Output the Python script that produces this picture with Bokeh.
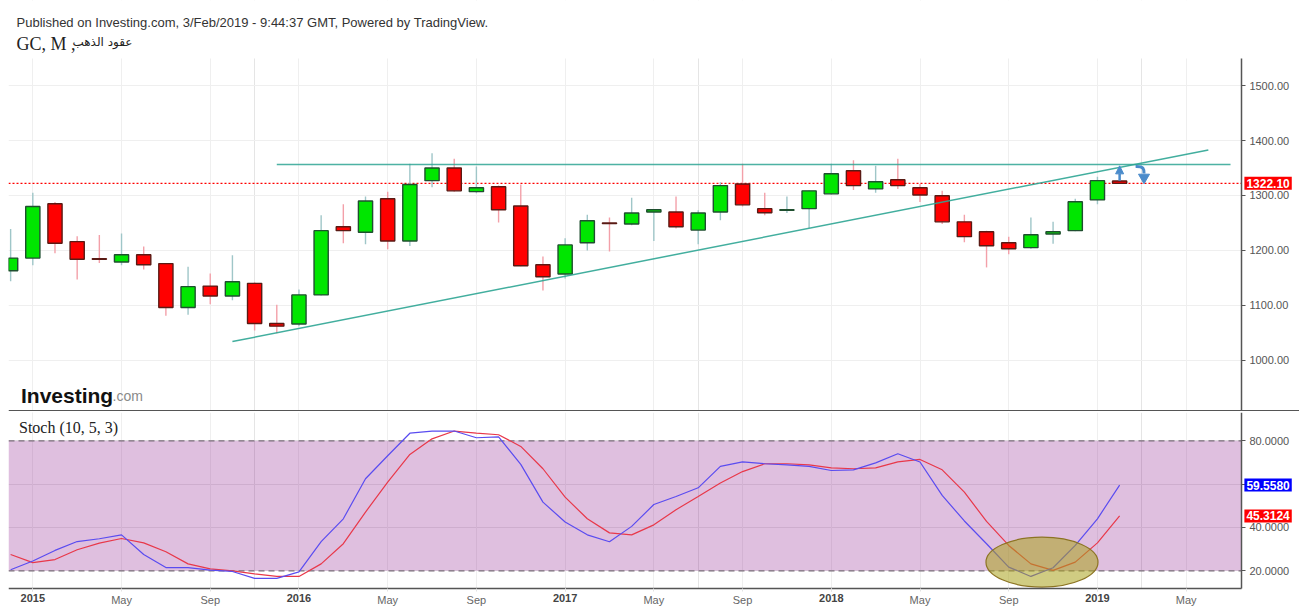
import numpy as np
import pandas as pd
from bokeh.plotting import figure
from bokeh.layouts import column
from bokeh.models import (ColumnDataSource, FixedTicker, Grid, Span, Label, LinearAxis,
                          Range1d, NumeralTickFormatter, Arrow, NormalHead, BoxAnnotation)
from bokeh.embed import file_html
from bokeh.resources import INLINE

# ---------------- data ----------------
months = [str(p) for p in pd.period_range("2014-12", "2019-02", freq="M")]

open_ = [1163, 1186, 1285, 1216, 1185, 1179, 1192, 1176, 1096, 1135, 1117, 1140, 1067, 1066,
         1119, 1243, 1233, 1294, 1217, 1327, 1350, 1307, 1316, 1281, 1174, 1157, 1214, 1250,
         1248, 1270, 1270, 1237, 1270, 1321, 1276, 1273, 1276, 1303, 1345, 1312, 1328.6, 1314,
         1299.5, 1252, 1234, 1214, 1205, 1230, 1236, 1292, 1326.5]
high = [1239, 1305, 1288, 1226, 1228, 1231, 1207, 1177, 1170, 1158, 1191, 1142, 1101, 1129,
        1264, 1284, 1298, 1307, 1358, 1377, 1367, 1353, 1318, 1320, 1189, 1222, 1265, 1260,
        1296, 1275, 1298, 1273, 1324, 1358, 1305, 1298, 1309, 1358, 1364, 1354, 1367, 1321,
        1308.5, 1265, 1236, 1225, 1260, 1252, 1294, 1334, 1327]
low = [1144, 1173, 1195, 1147, 1177, 1173, 1165, 1081, 1083, 1102, 1109, 1054, 1049, 1062,
       1118, 1213, 1211, 1202, 1208, 1315, 1307, 1304, 1251, 1171, 1127, 1149, 1200, 1198,
       1246, 1217, 1240, 1211, 1255, 1280, 1264, 1268, 1241, 1302, 1310, 1305, 1312, 1288,
       1248, 1215, 1169, 1193, 1203, 1212, 1235, 1284, 1321]
close = [1186, 1280, 1213, 1184, 1184, 1192, 1174, 1096, 1134, 1117, 1143, 1067, 1062, 1119,
         1236, 1236, 1290, 1217, 1320, 1350, 1308.5, 1314, 1274, 1172, 1152, 1210, 1254, 1249,
         1268, 1274, 1243, 1268, 1318, 1283, 1268.5, 1274, 1308.5, 1339.5, 1318, 1325, 1318,
         1301, 1252, 1225, 1208.5, 1203, 1228.5, 1234, 1288.5, 1327, 1322.1]

stoch_k = [20.5, 24.5, 29.4, 33.5, 34.8, 36.6, 27.5, 21.5, 21.5, 20.3, 19.7, 16.5, 16.5, 19.5,
           33.5, 44.0, 62.5, 73.1, 83.5, 84.5, 84.5, 81.4, 81.8, 69.1, 51.7, 42.5, 36.6, 33.4,
           40.5, 50.6, 54.3, 58.3, 68.2, 70.3, 69.4, 68.9, 68.2, 66.3, 66.6, 69.8, 74.0, 70.2,
           54.8, 43.0, 32.5, 21.7, 17.4, 21.4, 31.7, 44.0, 59.558]
stoch_d = [27.5, 23.8, 25.2, 29.7, 32.8, 34.9, 32.9, 28.8, 23.2, 20.9, 20.0, 18.6, 17.4, 17.4,
           23.2, 32.5, 47.1, 60.9, 73.7, 80.9, 84.5, 83.5, 82.8, 77.4, 67.1, 54.0, 44.0, 37.5,
           36.6, 41.2, 48.2, 54.3, 60.5, 65.8, 69.4, 69.4, 68.9, 67.5, 67.1, 67.5, 70.3, 71.4,
           66.6, 56.3, 42.8, 31.7, 23.2, 20.2, 24.0, 32.9, 45.3124]

tick_pos = [0, 4, 8, 12, 16, 20, 24, 28, 32, 36, 40, 44, 48, 52]
tick_labels = ["2015", "May", "Sep", "2016", "May", "Sep", "2017", "May", "Sep",
               "2018", "May", "Sep", "2019", "May"]
price_ticks = [1000, 1100, 1200, 1300, 1400, 1500]
stoch_ticks = [20, 40, 60, 80]

# drawn annotations (month index, price / stoch value)
hline_x = [11, 54]
hline_y = [1356.5, 1356.5]
trend_x = [9, 53]
trend_y = [1034, 1383]
up_arrow = dict(x=49, y0=1327, y1=1354)
curve = dict(x0=49.72, y0=1353, cx0=50.1, cy0=1353.5, cx1=50.1, cy1=1348, x1=50.1, y1=1340, hy=1333)
ellipse = dict(x=45.5, y=24.0, w=5.05, h=23.0)

# ---------------- derived ----------------
x = np.arange(len(months)) - 1
o = np.array(open_, float); c = np.array(close, float)
up = c >= o
src = ColumnDataSource(dict(
    x=x, top=np.maximum(o, c), bottom=np.minimum(o, c), high=high, low=low,
    body=np.where(up, "#00e600", "#ff0000"),
    border=np.where(up, "#1f4f2f", "#5a1a14"),
    wick=np.where(up, "#9fc6c8", "#f3a0a9"),
))

AXIS_X = 54.49                      # month-index position of the price scale
XR = Range1d(-1.096, 57.11)
W = 1291
P_LO, P_HI = 906.6, 1549.5          # visible price window
S_LO, S_HI = 11.83, 93.06           # visible stochastic window
is_year = [t not in ("May", "Sep") for t in tick_labels]

def style_yaxis(p, fmt, bounds):
    ax = p.yaxis[0]
    ax.fixed_location = AXIS_X
    ax.bounds = bounds
    ax.formatter = NumeralTickFormatter(format=fmt)
    ax.axis_line_color = "#555555"
    ax.axis_line_width = 1.5
    ax.major_tick_line_color = "#555555"
    ax.major_tick_out = 4
    ax.major_tick_in = 0
    ax.minor_tick_line_color = None
    ax.major_label_text_color = "#555555"
    ax.major_label_text_font_size = "11px"
    ax.major_label_text_font = "Liberation Sans"
    ax.major_label_standoff = 4

def value_box(p, y, txt, color):
    p.add_layout(Label(x=AXIS_X, y=y, text=txt, x_offset=3, text_align="left",
                       text_baseline="middle", text_color="white", text_font="Liberation Sans",
                       text_font_size="12px", text_font_style="bold",
                       background_fill_color=color, padding=2))

def screen_label(p, xs, ys, txt, font, size, color, style="normal", baseline="alphabetic"):
    p.add_layout(Label(x=xs, y=ys, x_units="screen", y_units="screen", text=txt,
                       text_font=font, text_font_size=size, text_font_style=style,
                       text_color=color, text_baseline=baseline))

# ---------------- price panel ----------------
top = figure(frame_width=W, frame_height=411, x_range=XR,
             y_range=Range1d(P_LO, P_HI + 58 * (P_HI - P_LO) / 353),
             x_axis_location=None, y_axis_location="right", output_backend="svg",
             toolbar_location=None, min_border_left=8, min_border_right=0,
             min_border_top=0, min_border_bottom=0, outline_line_color=None)
top.yaxis.ticker = FixedTicker(ticks=price_ticks)
style_yaxis(top, "0.00", (P_LO, P_HI))
top.ygrid.grid_line_color = "#efefef"
top.add_layout(Grid(dimension=0, ticker=FixedTicker(ticks=tick_pos), grid_line_color="#efefef"))

top.add_layout(Span(location=close[-1], dimension="width", line_color="#ff0000",
                    line_dash="2 2", line_width=1.3, level="underlay"))
top.add_layout(BoxAnnotation(left=AXIS_X, fill_color="white", fill_alpha=1.0,
                             line_color=None, level="underlay"))
top.add_layout(BoxAnnotation(bottom=P_HI, fill_color="white", fill_alpha=1.0,
                             line_color=None, level="underlay"))

top.segment(x0="x", y0="low", x1="x", y1="high", line_color="wick", line_width=1.4, source=src)
top.vbar(x="x", width=0.64, top="top", bottom="bottom", fill_color="body",
         line_color="border", line_width=1.4, source=src)

top.line(hline_x, hline_y, line_color="#2ea594", line_width=1.5, line_alpha=0.85)
top.line(trend_x, trend_y, line_color="#2ea594", line_width=1.5, line_alpha=0.9)

AC = "#4a8bcb"
top.add_layout(Arrow(end=NormalHead(size=8, fill_color=AC, line_color=AC),
                     x_start=up_arrow["x"], y_start=up_arrow["y0"],
                     x_end=up_arrow["x"], y_end=up_arrow["y1"], line_color=AC, line_width=2.5))
top.bezier(x0=[curve["x0"]], y0=[curve["y0"]], x1=[curve["x1"]], y1=[curve["y1"]],
           cx0=[curve["cx0"]], cy0=[curve["cy0"]], cx1=[curve["cx1"]], cy1=[curve["cy1"]],
           line_color=AC, line_width=3)
top.scatter([curve["x1"]], [curve["hy"]], marker="inverted_triangle", size=11,
            fill_color=AC, line_color=AC)

top.add_layout(Span(location=P_LO, dimension="width", line_color="#555555", line_width=3))

screen_label(top, 8, 389, "Published on Investing.com, 3/Feb/2019 - 9:44:37 GMT, Powered by TradingView.",
             "Liberation Sans", "13px", "#333333")
screen_label(top, 8, 367.7, "GC, M ,", "Liberation Serif", "18px", "#222222")
screen_label(top, 64, 370, "عقود الذهب", "DejaVu Sans", "12px", "#222222")
screen_label(top, 12.5, 16, "Investing", "Liberation Sans", "21px", "#111111", style="bold")
screen_label(top, 104, 16, ".com", "Liberation Sans", "14px", "#8a8a8a")
value_box(top, close[-1], f"{close[-1]:.2f}", "#ff0000")

# ---------------- stochastic panel ----------------
bot = figure(frame_width=W, frame_height=194, x_range=XR,
             y_range=Range1d(S_LO - 18 * (S_HI - S_LO) / 176, S_HI),
             x_axis_location=None, y_axis_location="right", output_backend="svg",
             toolbar_location=None, min_border_left=8, min_border_right=0,
             min_border_top=1, min_border_bottom=0, outline_line_color=None)
bot.yaxis.ticker = FixedTicker(ticks=stoch_ticks)
style_yaxis(bot, "0.0000", (S_LO, S_HI))
bot.yaxis.major_label_overrides = {60: ""}
bot.ygrid.grid_line_color = "#e9e9e9"
bot.add_layout(Grid(dimension=0, ticker=FixedTicker(ticks=tick_pos), grid_line_color="#efefef"))

month_axis = LinearAxis(ticker=FixedTicker(ticks=tick_pos), fixed_location=S_LO,
                        bounds=(XR.start, AXIS_X),
                        major_label_overrides={p: ("" if y else t) for p, t, y in zip(tick_pos, tick_labels, is_year)},
                        axis_line_color="#555555", axis_line_width=1.5,
                        major_tick_line_color="#e3e3e3", major_tick_out=3, major_tick_in=0,
                        minor_tick_line_color=None, major_label_standoff=2,
                        major_label_text_color="#666666", major_label_text_font_size="11px",
                        major_label_text_font="Liberation Sans")
year_pos = [p for p, y in zip(tick_pos, is_year) if y]
year_axis = LinearAxis(ticker=FixedTicker(ticks=year_pos), fixed_location=S_LO,
                       major_label_overrides={p: t for p, t, y in zip(tick_pos, tick_labels, is_year) if y},
                       axis_line_color=None, major_tick_line_color="#e3e3e3", major_tick_out=3,
                       major_tick_in=0, minor_tick_line_color=None, major_label_standoff=2,
                       major_label_text_color="#444444", major_label_text_font_size="11px",
                       major_label_text_font="Liberation Sans", major_label_text_font_style="bold")
bot.add_layout(month_axis, "below")
bot.add_layout(year_axis, "below")

bot.add_layout(BoxAnnotation(bottom=20, top=80, right=AXIS_X, fill_color="#800080",
                             fill_alpha=0.25, line_color=None, level="underlay"))
for lv in (20, 80):
    bot.add_layout(Span(location=lv, dimension="width", line_color="#7a6e7a",
                        line_dash="6 4", line_width=1.2, level="underlay"))
bot.add_layout(BoxAnnotation(left=AXIS_X, fill_color="white", fill_alpha=1.0,
                             line_color=None, level="underlay"))
bot.add_layout(BoxAnnotation(top=S_LO, fill_color="white", fill_alpha=1.0,
                             line_color=None, level="underlay"))

bot.line(x, stoch_d, line_color="#e8384a", line_width=1.2)
bot.line(x, stoch_k, line_color="#5a4cf0", line_width=1.2)

bot.ellipse(x=[ellipse["x"]], y=[ellipse["y"]], width=ellipse["w"], height=ellipse["h"],
            fill_color="#a9a21c", fill_alpha=0.55, line_color="#8c7423", line_width=1.2)

screen_label(bot, 10.5, 179, "Stoch (10, 5, 3)", "Liberation Serif", "16px", "#222222",
             baseline="middle")
value_box(bot, stoch_k[-1], f"{stoch_k[-1]:.4f}", "#0000ff")
value_box(bot, stoch_d[-1], f"{stoch_d[-1]:.4f}", "#ff0000")

layout = column(top, bot, spacing=0)
open("out.html", "w").write(file_html(layout, INLINE))
